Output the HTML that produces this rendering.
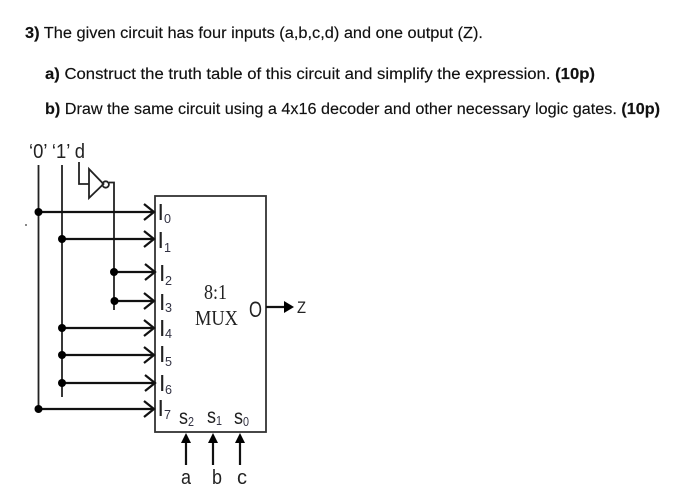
<!DOCTYPE html>
<html><head><meta charset="utf-8"><style>
html,body{margin:0;padding:0;background:#fff;width:683px;height:499px;overflow:hidden}
svg{display:block}
.t{font:15.5px "Liberation Sans",sans-serif;fill:#111;stroke:#111;stroke-width:.15}
.l{font:23px "Liberation Sans",sans-serif;fill:#222}
.s{font:13px "Liberation Sans",sans-serif;fill:#334}
.m{font:21px "Liberation Serif",serif;fill:#222}
.f{font-family:"Liberation Sans",sans-serif;fill:#222}
</style></head><body>
<svg width="683" height="499" viewBox="0 0 683 499" xmlns="http://www.w3.org/2000/svg">
<text class="t" x="25" y="38" textLength="458" lengthAdjust="spacingAndGlyphs"><tspan font-weight="bold">3)</tspan> The given circuit has four inputs (a,b,c,d) and one output (Z).</text>
<text class="t" x="45" y="79" textLength="550" lengthAdjust="spacingAndGlyphs"><tspan font-weight="bold">a)</tspan> Construct the truth table of this circuit and simplify the expression. <tspan font-weight="bold">(10p)</tspan></text>
<text class="t" x="45" y="114" textLength="615" lengthAdjust="spacingAndGlyphs"><tspan font-weight="bold">b)</tspan> Draw the same circuit using a 4x16 decoder and other necessary logic gates. <tspan font-weight="bold">(10p)</tspan></text>
<rect x="25" y="224" width="2" height="2" fill="#888"/>
<text class="f" x="29" y="158" font-size="20" textLength="56" lengthAdjust="spacingAndGlyphs">‘0’ ‘1’ d</text>

<g fill="none" stroke="#222" stroke-width="1.8">
<path d="M38.5 165V409M62 165V397M79 162V184H89M109 182.5H114V310"/>
<path d="M89 169V198L103.5 184Z"/>
<circle cx="105.7" cy="184.5" r="3.2"/>
<rect x="155" y="196" width="111" height="236" stroke-width="1.8" stroke="#333"/>
</g>
<g stroke="#111" stroke-width="2.2" fill="none">
<path d="M38 212H154M144 204L154 212L144 220"/>
<path d="M62 239H154M144 231L154 239L144 247"/>
<path d="M114 272H155M145 264L155 272L145 280"/>
<path d="M114 301H154M144 293L154 301L144 309"/>
<path d="M62 328H154M144 320L154 328L144 336"/>
<path d="M62 355H154M144 347L154 355L144 363"/>
<path d="M62 383H155M145 375L155 383L145 391"/>
<path d="M38 409H154M144 401L154 409L144 417"/>
<path d="M266 307H285M186 440V465M213 440V465M240 440V465"/>
</g>
<g fill="#000">
<circle cx="38.5" cy="212" r="4"/><circle cx="62" cy="239" r="4"/>
<circle cx="114" cy="272" r="4"/><circle cx="114.5" cy="301" r="4"/>
<circle cx="62" cy="328" r="4"/><circle cx="62" cy="355" r="4"/>
<circle cx="62" cy="383" r="4"/><circle cx="38.5" cy="409" r="4"/>
<path d="M294 307L284 301V313Z"/>
<path d="M186 433L181 443H191ZM213 433L208 443H218ZM240 433L235 443H245Z"/>
</g>
<text class="l" x="157.500" y="220">I</text><text class="s" x="164" y="223" textLength="7" lengthAdjust="spacingAndGlyphs">0</text>
<text class="l" x="157.500" y="248">I</text><text class="s" x="164" y="252" textLength="7" lengthAdjust="spacingAndGlyphs">1</text>
<text class="l" x="159" y="281">I</text><text class="s" x="165" y="285" textLength="7" lengthAdjust="spacingAndGlyphs">2</text>
<text class="l" x="159" y="310">I</text><text class="s" x="165" y="312" textLength="7" lengthAdjust="spacingAndGlyphs">3</text>
<text class="l" x="159" y="336">I</text><text class="s" x="165" y="338" textLength="7" lengthAdjust="spacingAndGlyphs">4</text>
<text class="l" x="159" y="362">I</text><text class="s" x="165" y="366" textLength="7" lengthAdjust="spacingAndGlyphs">5</text>
<text class="l" x="159" y="391">I</text><text class="s" x="165" y="394" textLength="7" lengthAdjust="spacingAndGlyphs">6</text>
<text class="l" x="157.500" y="416">I</text><text class="s" x="164" y="419" textLength="7" lengthAdjust="spacingAndGlyphs">7</text>
<text class="m" x="204" y="299" textLength="23" lengthAdjust="spacingAndGlyphs">8:1</text>
<text class="m" x="195" y="325" textLength="43" lengthAdjust="spacingAndGlyphs">MUX</text>
<text class="f" font-size="22" x="249" y="317" textLength="13" lengthAdjust="spacingAndGlyphs">O</text>
<text class="f" font-size="17" x="297" y="313" textLength="9" lengthAdjust="spacingAndGlyphs">Z</text>
<text class="f" font-size="21" x="179" y="424" textLength="9" lengthAdjust="spacingAndGlyphs">s</text><text class="s" x="188" y="426" textLength="6" lengthAdjust="spacingAndGlyphs">2</text>
<text class="f" font-size="21" x="207" y="423" textLength="9" lengthAdjust="spacingAndGlyphs">s</text><text class="s" x="216" y="425" textLength="6" lengthAdjust="spacingAndGlyphs">1</text>
<text class="f" font-size="21" x="234" y="424" textLength="9" lengthAdjust="spacingAndGlyphs">s</text><text class="s" x="243" y="426" textLength="6" lengthAdjust="spacingAndGlyphs">0</text>
<text class="f" font-size="20" x="181" y="484" textLength="10" lengthAdjust="spacingAndGlyphs">a</text>
<text class="f" font-size="20" x="212" y="484" textLength="10" lengthAdjust="spacingAndGlyphs">b</text>
<text class="f" font-size="20" x="237" y="484" textLength="10" lengthAdjust="spacingAndGlyphs">c</text>
</svg>
</body></html>
